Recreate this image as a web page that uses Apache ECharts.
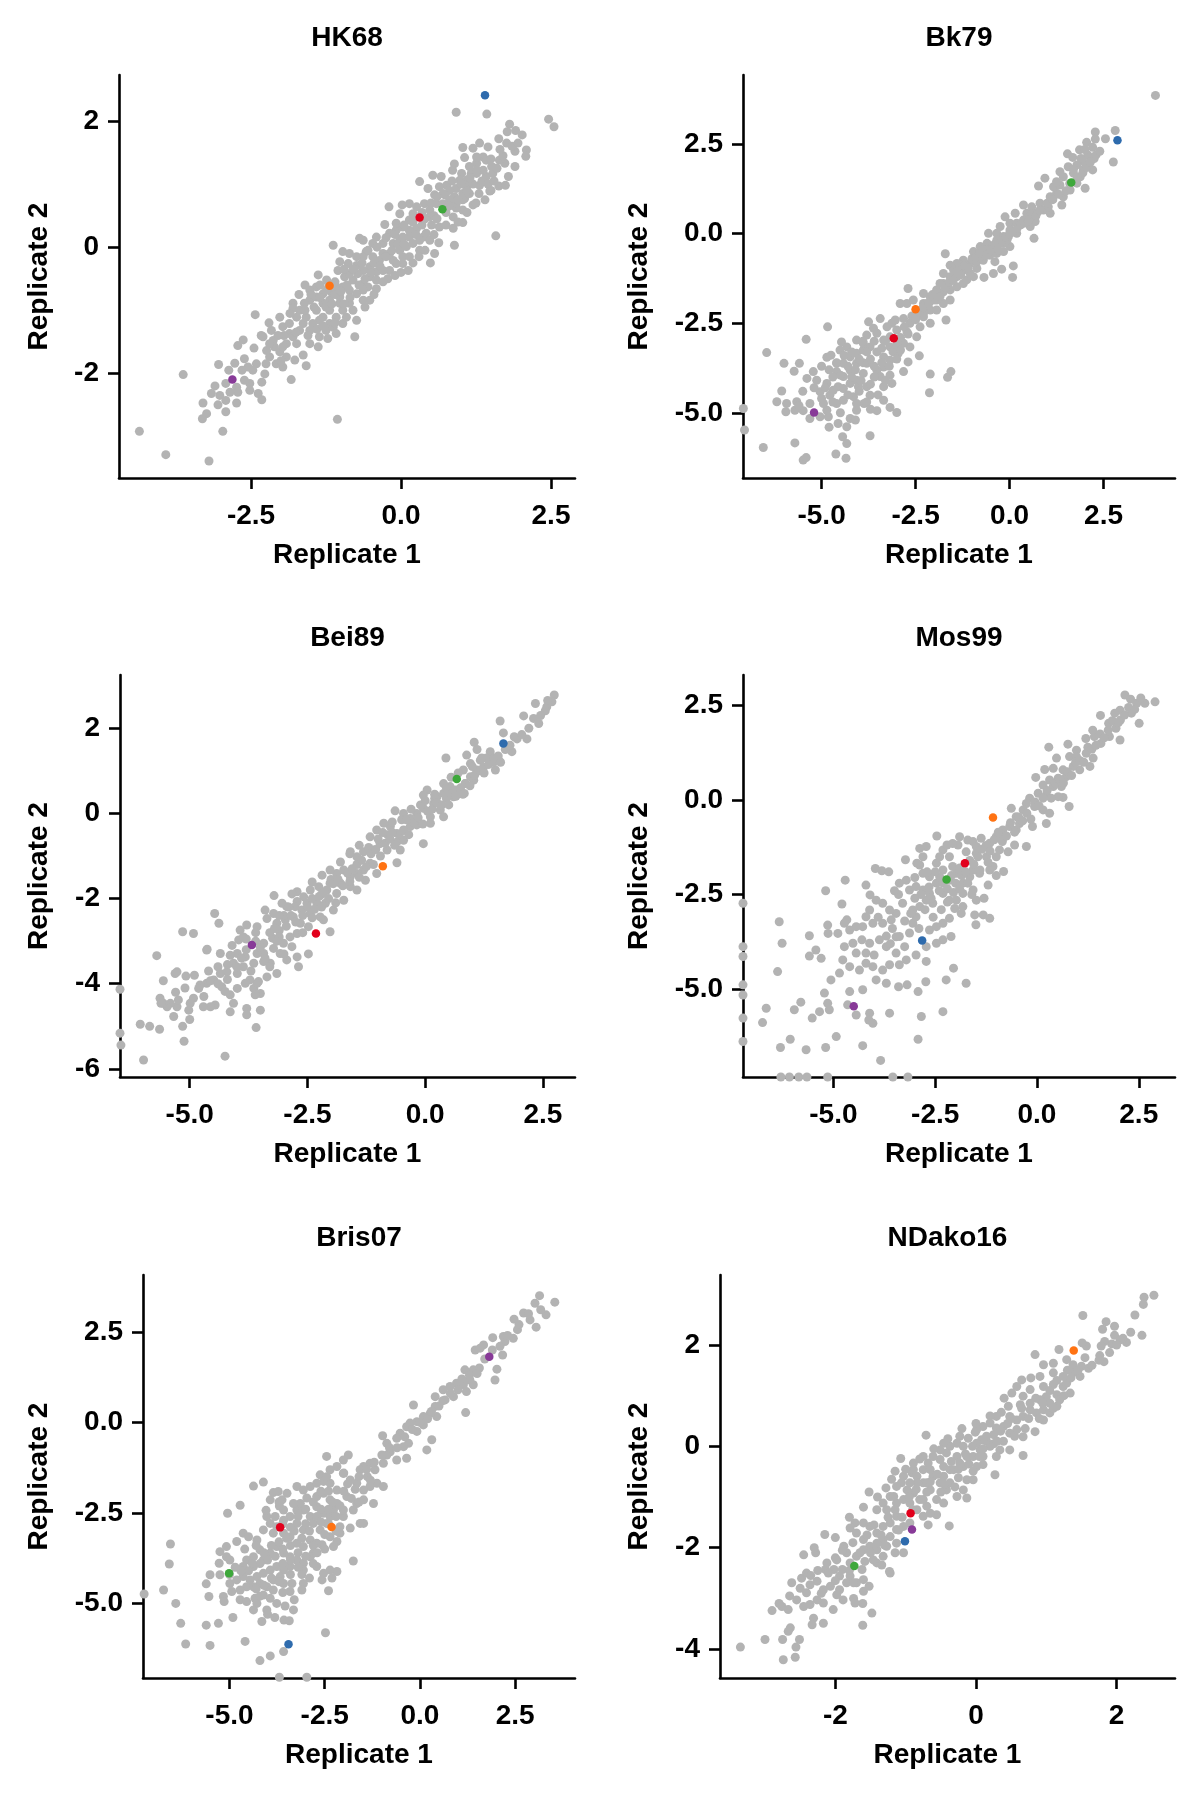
<!DOCTYPE html>
<html><head><meta charset="utf-8">
<script src="https://cdn.jsdelivr.net/npm/echarts@6/dist/echarts.min.js"></script>
<style>html,body{margin:0;padding:0;background:#fff}#c{width:1200px;height:1800px}</style>
</head><body><div id="c"></div>
<script>
// ---------------- DATA ----------------
const PANEL_NAMES = ['HK68','Bk79','Bei89','Mos99','Bris07','NDako16'];
// highlighted points, order: blue, red, green, orange, purple
const HIGHLIGHT_COLORS = ['#2e6bad','#e2001c','#3ea83b','#ff7313','#883a98'];

const HK68_GRAY = [[0.92,2.14],[1.43,2.11],[2.46,2.03],[2.55,1.91],[1.81,1.95],[1.77,1.83],[1.91,1.85],[2.02,1.78],[1.63,1.72],[2.09,1.54],[2.08,1.44],[1.76,1.65],[1.90,1.52],[1.03,1.58],[1.31,1.65],[1.45,1.59],[1.20,1.57],[1.06,1.42],[0.89,1.32],[0.86,1.22],[1.37,1.43],[1.26,1.33],[1.51,1.28],[1.73,1.33],[1.90,1.28],[1.64,1.38],[1.79,1.12],[1.63,0.97],[1.74,0.98],[1.48,0.89],[1.31,0.98],[1.42,1.12],[1.17,1.17],[1.01,1.17],[0.67,1.12],[0.53,1.14],[0.31,1.04],[0.45,0.93],[0.76,0.98],[0.92,0.93],[1.09,0.96],[0.73,0.83],[0.89,0.80],[1.06,0.77],[1.20,0.67],[1.03,0.59],[0.56,0.83],[0.39,0.69],[0.92,0.62],[0.87,0.48],[1.03,0.39],[1.58,0.18],[0.87,0.30],[0.64,0.32],[0.51,0.35],[0.48,0.48],[0.14,0.69],[0.02,0.67],[-0.20,0.64],[-0.02,0.53],[0.14,0.43],[0.26,0.30],[0.14,0.27],[0.37,0.16],[0.63,0.07],[0.89,0.03],[0.56,-0.10],[0.49,-0.25],[0.30,-0.15],[0.12,-0.37],[0.03,-0.15],[-0.08,0.27],[-0.19,0.22],[-0.27,0.36],[-0.02,0.11],[-0.13,0.06],[-0.30,-0.10],[-0.41,0.16],[-0.47,0.06],[-0.63,0.11],[-0.69,0.14],[-0.58,-0.07],[-0.47,-0.15],[-0.36,-0.21],[-0.19,-0.37],[-0.22,-0.50],[-0.41,-0.39],[-0.52,-0.31],[-0.63,-0.37],[-0.74,-0.29],[-0.86,-0.10],[-0.97,-0.07],[-1.13,0.03],[-1.02,-0.23],[-0.88,-0.26],[-1.05,-0.37],[-0.94,-0.47],[-0.80,-0.52],[-0.63,-0.58],[-0.41,-0.66],[-0.52,-0.84],[-0.63,-0.84],[-0.74,-0.74],[-0.86,-0.68],[-0.97,-0.63],[-1.38,-0.44],[-1.08,-0.63],[-1.30,-0.74],[-1.19,-0.84],[-1.02,-0.89],[-0.86,-0.89],[-0.74,-1.16],[-0.77,-1.42],[-0.97,-1.00],[-1.08,-1.11],[-1.19,-1.21],[-1.30,-1.11],[-1.41,-1.00],[-1.52,-0.84],[-1.61,-0.89],[-1.80,-0.89],[-1.80,-0.97],[-1.74,-1.11],[-1.63,-1.21],[-1.52,-1.32],[-1.36,-1.42],[-1.22,-1.45],[-1.38,-1.58],[-1.52,-1.53],[-1.63,-1.71],[-1.77,-1.79],[-1.58,-1.88],[-1.83,-2.10],[-1.97,-1.90],[-2.08,-1.85],[-2.02,-1.66],[-1.91,-1.53],[-1.86,-1.37],[-1.97,-1.26],[-2.02,-1.11],[-2.16,-1.32],[-2.13,-1.48],[-2.11,-1.58],[-2.30,-1.42],[-2.33,-1.40],[-2.43,-1.07],[-2.63,-1.47],[-2.72,-1.56],[-2.61,-1.77],[-2.41,-1.85],[-2.47,-1.95],[-2.27,-2.01],[-2.32,-2.14],[-2.52,-2.16],[-2.61,-2.11],[-2.74,-2.22],[-2.72,-2.30],[-2.52,-2.27],[-2.38,-2.32],[-2.32,-2.42],[-2.77,-1.84],[-2.87,-1.95],[-3.04,-1.86],[-2.92,-2.16],[-3.02,-2.35],[-2.92,-2.43],[-3.16,-2.32],[-2.74,-2.47],[-2.92,-2.61],[-3.30,-2.47],[-3.24,-2.64],[-3.31,-2.72],[-3.63,-2.02],[-2.97,-2.92],[-1.06,-2.73],[-4.36,-2.92],[-3.92,-3.29],[-3.20,-3.39],[-0.63,-0.15],[-0.74,-0.15],[-0.86,-0.42],[-0.72,-0.42],[-0.52,-0.47],[-0.41,-0.52],[-0.55,-0.63],[-0.63,-0.68],[-0.30,-0.37],[-0.13,-0.21],[-0.02,-0.05],[0.09,0.01],[0.20,0.06],[0.31,0.11],[0.03,0.16],[0.14,0.16],[0.42,0.22],[0.48,0.11],[0.31,-0.05],[0.14,-0.15],[0.03,-0.26],[-0.08,-0.26],[-0.19,-0.10],[-0.30,0.06],[-0.08,0.38],[0.03,0.32],[0.20,0.53],[0.26,0.64],[0.48,0.59],[0.59,0.69],[0.70,0.69],[0.81,0.75],[0.92,0.69],[1.03,0.75],[1.14,0.85],[1.03,0.85],[0.81,0.90],[0.64,0.96],[0.98,1.06],[1.09,1.06],[1.26,1.17],[1.37,1.22],[1.53,1.17],[1.26,1.22],[1.14,1.28],[1.26,1.43],[1.42,1.38],[-1.41,-0.63],[-1.52,-0.68],[-1.41,-0.79],[-1.30,-0.89],[-1.19,-1.00],[-1.36,-1.16],[-1.47,-1.21],[-1.58,-1.11],[-1.69,-1.00],[-1.69,-1.32],[-1.80,-1.42],[-1.74,-1.53],[-1.97,-1.58],[-1.91,-1.74],[-2.19,-1.74],[-2.24,-1.64],[-2.19,-1.53],[-1.86,-1.21],[-1.25,-1.32],[-1.13,-1.27],[-1.08,-1.37],[-0.97,-1.21],[-0.91,-1.11],[-1.02,-0.79],[-1.16,-0.71],[-1.24,-0.68],[-1.24,-0.52],
[-1.60,-1.00],[-1.45,-0.95],[-1.35,-0.80],[-1.25,-0.95],[-1.15,-0.90],[-1.10,-0.75],[-1.00,-0.70],[-0.90,-0.60],[-0.85,-0.80],[-0.70,-0.60],[-0.60,-0.50],[-0.50,-0.40],[-0.45,-0.25],[-0.35,-0.30],[-0.25,-0.15],[-0.15,-0.05],[-0.05,0.05],[0.05,0.05],[0.15,0.25],[0.25,0.20],[0.35,0.35],[0.40,0.45],[0.55,0.50],[0.60,0.45],[0.75,0.55],[0.80,0.65],[0.95,0.75],[1.10,0.90],[1.20,1.00],[1.35,1.05],[1.45,1.00],[1.55,1.05],[1.60,1.25],[1.50,1.40],[1.70,1.45],[1.85,1.60],[1.95,1.65],[1.65,1.55],[1.15,1.10],[1.00,1.00],[0.85,1.05],[0.70,0.85],[0.60,0.80],[0.50,0.70],[0.35,0.55],[0.20,0.40],[0.05,0.35],[-0.10,0.20],[-0.25,0.15],[-0.40,0.00],[-0.55,-0.05],[-0.65,-0.25],[-0.80,-0.35],[-0.95,-0.35],[-1.10,-0.55],[-1.20,-0.60],[-1.35,-0.60],[-1.50,-0.75],[-1.60,-0.60],[-1.70,-0.75],[-1.85,-1.05],[-1.95,-1.40],[-2.05,-1.40],[-2.20,-1.20],[-2.25,-1.85],[-2.45,-1.60],[-2.55,-1.90],[-2.65,-1.95],[-2.85,-2.30],[-3.05,-2.50],[-3.10,-2.20],[-2.00,-1.80],[-1.75,-1.35],[-1.55,-1.40],[-1.40,-1.30],[-1.30,-1.25],[-1.10,-1.20],[-0.95,-0.90],[-0.80,-1.00],[-0.60,-0.95],[-0.45,-0.75],[-0.30,-0.55],[-0.10,-0.45],[0.00,-0.40],[0.20,-0.25],[0.40,-0.05],[0.55,0.20],[0.75,0.35],[0.95,0.40],[1.10,0.55],[1.25,0.70],[1.40,0.75],[1.30,0.85],[1.50,0.90]];
const HK68_HIGHLIGHT = [[1.40,2.41],[0.31,0.47],[0.69,0.60],[-1.19,-0.61],[-2.81,-2.10]];

const BK79_GRAY = [[3.88,3.86],[2.28,2.84],[2.81,2.88],[2.55,2.65],[2.28,2.64],[2.05,2.55],[2.76,2.00],[2.21,2.41],[1.86,2.34],[1.54,2.23],[1.68,2.13],[2.08,2.20],[2.25,2.10],[1.96,2.01],[1.79,1.92],[1.56,1.87],[1.34,1.73],[2.21,1.78],[1.96,1.78],[1.43,1.59],[0.94,1.55],[0.77,1.33],[1.17,1.31],[1.34,1.36],[2.01,1.27],[1.25,1.13],[1.08,1.03],[1.39,0.80],[1.08,0.57],[0.81,0.85],[0.59,0.75],[0.37,0.80],[0.46,0.57],[0.68,0.34],[0.55,0.20],[0.65,-0.13],[0.15,0.57],[-0.12,0.47],[0.01,0.29],[-0.25,0.20],[0.19,0.01],[-0.03,-0.08],[-0.34,0.01],[-0.56,0.01],[-0.16,-0.27],[-0.34,-0.36],[-0.60,-0.27],[-0.78,-0.36],[-0.96,-0.50],[-0.70,-0.55],[-0.39,-0.78],[-0.21,-0.99],[0.10,-0.90],[0.08,-1.22],[-0.43,-1.11],[-0.68,-1.22],[-0.87,-0.97],[-1.05,-0.83],[-1.23,-0.74],[-1.40,-0.83],[-1.58,-0.88],[-1.71,-0.56],[-0.96,-1.20],[-1.23,-1.01],[-1.40,-1.20],[-1.58,-1.20],[-1.76,-1.39],[-1.94,-1.57],[-1.76,-1.62],[-1.58,-1.57],[-1.40,-1.48],[-1.23,-1.39],[-1.14,-1.29],[-1.58,-1.85],[-1.76,-1.95],[-1.94,-1.85],[-2.11,-1.76],[-2.29,-1.67],[-2.70,-1.53],[-2.73,-1.95],[-2.29,-1.95],[-2.11,-2.13],[-1.94,-2.13],[-1.69,-2.41],[-2.11,-2.50],[-2.38,-2.60],[-2.65,-2.50],[-2.82,-2.37],[-3.04,-2.41],[-3.44,-2.37],[-3.75,-2.46],[-2.73,-2.74],[-2.47,-2.88],[-2.65,-3.16],[-2.40,-3.41],[-2.70,-3.58],[-2.96,-3.34],[-3.18,-3.16],[-3.35,-2.97],[-3.53,-2.78],[-3.80,-2.83],[-4.07,-2.97],[-4.47,-3.02],[-4.84,-2.60],[-5.41,-2.95],[-6.46,-3.32],[-6.00,-3.62],[-5.59,-3.62],[-5.73,-3.84],[-6.06,-4.39],[-6.19,-4.69],[-5.95,-4.97],[-5.71,-4.93],[-5.49,-4.94],[-5.31,-4.74],[-5.31,-5.16],[-5.22,-3.85],[-5.39,-4.04],[-5.13,-4.09],[-4.86,-4.18],[-5.04,-4.41],[-4.78,-4.51],[-4.56,-4.27],[-4.42,-3.99],[-4.60,-3.85],[-4.24,-3.81],[-4.07,-3.62],[-4.42,-3.62],[-4.24,-3.44],[-4.07,-3.34],[-3.89,-3.25],[-3.71,-3.16],[-3.53,-3.30],[-3.35,-3.44],[-3.18,-3.53],[-3.35,-3.72],[-3.53,-3.81],[-3.80,-3.62],[-3.89,-3.90],[-4.07,-4.09],[-4.24,-4.18],[-4.42,-4.32],[-4.02,-4.27],[-3.80,-4.27],[-3.71,-4.51],[-3.44,-3.99],[-3.18,-3.95],[-2.82,-3.85],[-3.13,-4.18],[-3.35,-4.65],[-3.18,-4.85],[-3.00,-4.99],[-3.53,-4.94],[-3.87,-4.74],[-4.07,-4.93],[-4.24,-5.16],[-4.33,-5.39],[-4.56,-5.30],[-4.82,-5.11],[-5.04,-5.11],[-4.86,-4.93],[-4.60,-4.74],[-4.44,-5.67],[-4.33,-5.86],[-3.71,-5.64],[-5.71,-5.84],[-6.55,-5.97],[-5.49,-6.32],[-5.41,-6.25],[-4.62,-6.15],[-4.35,-6.27],[-7.08,-4.88],[-7.05,-5.48],[-2.11,-3.92],[-2.13,-4.44],[-1.65,-4.01],[-1.56,-3.85],[-4.86,-3.45],[-4.60,-3.62],[-4.75,-3.39],[-3.00,-2.69],[-3.18,-2.88],[-2.82,-3.06],[-2.47,-2.32],[-2.29,-2.23],[-2.29,-2.32],[-2.20,-1.95],[-2.02,-1.85],[-1.85,-1.39],[-1.76,-1.11],[-1.49,-1.01],[-1.32,-0.97],[-1.14,-1.01],[-1.05,-1.11],[-0.87,-0.78],[-0.70,-0.74],[-0.52,-0.60],[-0.47,-0.36],[-0.34,-0.18],[-0.16,-0.08],[0.01,0.10],[0.19,0.29],[0.37,0.38],[0.55,0.47],[0.72,0.57],[0.90,0.66],[1.03,0.75],[1.43,1.03],[1.61,1.22],[1.79,1.41],[1.88,1.59],[1.70,1.69],[1.25,1.45],[-0.60,-0.46],[-0.78,-0.64],[-0.34,-0.55],[-0.16,-0.50],[0.01,-0.36],[-0.07,-0.18],[-2.56,-1.85],[-2.91,-1.95],[-3.13,-2.50],[-3.26,-2.60],[-3.62,-2.64],[-3.89,-3.06],[-4.33,-3.16],[-4.51,-3.25],[-3.35,-4.27],[-4.42,-4.65],[-4.15,-4.55],[-4.07,-4.74],[-4.69,-4.37],[-4.95,-4.74],[-5.66,-4.69],[-5.93,-4.74],
[-4.10,-3.80],[-3.90,-3.60],[-3.70,-3.50],[-3.60,-3.70],[-3.40,-3.20],[-3.30,-3.00],[-3.10,-3.30],[-3.00,-3.10],[-2.90,-2.90],[-2.80,-2.60],[-2.70,-2.80],[-2.60,-2.30],[-2.50,-2.40],[-2.40,-2.20],[-2.30,-2.05],[-2.15,-1.95],[-2.05,-1.70],[-1.95,-1.65],[-1.85,-1.75],[-1.70,-1.50],[-1.60,-1.35],[-1.50,-1.30],[-1.40,-1.05],[-1.30,-1.15],[-1.20,-0.90],[-1.10,-0.95],[-1.00,-0.70],[-0.90,-0.65],[-0.80,-0.55],[-0.70,-0.45],[-0.60,-0.60],[-0.50,-0.45],[-0.40,-0.30],[-0.30,-0.45],[-0.20,-0.20],[-0.10,-0.10],[0.00,0.00],[0.10,0.05],[0.20,0.15],[0.30,0.25],[0.40,0.30],[0.50,0.35],[0.60,0.55],[0.70,0.50],[0.80,0.65],[1.00,0.85],[1.15,0.95],[1.30,1.10],[1.50,1.20],[1.60,1.40],[1.80,1.55],[1.95,1.70],[2.05,1.85],[2.15,2.00],[2.30,2.20],[2.40,2.30],[2.00,2.35],[1.90,2.10],[1.70,1.80],[-3.80,-3.30],[-4.00,-3.50],[-4.30,-3.70],[-4.50,-3.95],[-4.70,-4.00],[-4.90,-4.30],[-4.20,-4.00],[-3.95,-4.10],[-3.60,-4.00],[-3.40,-3.60],[-3.20,-3.70],[-3.00,-3.50],[-2.90,-3.25],[-3.60,-3.00],[-3.90,-3.00],[-4.20,-3.30],[-4.40,-3.40],[-4.60,-3.60],[-4.80,-3.80],[-5.00,-3.70],[-5.20,-4.30],[-4.70,-4.70],[-4.30,-4.50],[-4.00,-4.40],[-3.70,-4.20],[-3.30,-4.10],[-3.50,-4.50],[-3.80,-4.70],[-4.50,-5.00],[-4.80,-5.40],[-5.00,-4.60],[-5.50,-4.40],[-5.60,-4.80],[-4.10,-5.20],[-3.70,-4.90]];
const BK79_HIGHLIGHT = [[2.87,2.61],[-3.08,-2.92],[1.64,1.43],[-2.50,-2.11],[-5.20,-4.99]];

const BEI89_GRAY = [[2.74,2.78],[2.69,2.62],[2.58,2.50],[2.55,2.41],[2.34,2.58],[2.09,2.29],[2.30,2.23],[2.41,2.11],[1.59,2.17],[1.66,1.89],[1.89,1.80],[2.16,1.75],[1.84,1.45],[1.56,1.25],[1.49,1.02],[1.38,1.45],[1.10,1.50],[1.04,1.67],[0.88,1.37],[0.44,1.30],[0.96,1.17],[1.17,1.25],[1.24,1.09],[1.10,1.02],[0.96,0.86],[0.81,1.02],[1.03,0.78],[0.39,0.70],[0.53,0.63],[0.83,0.47],[0.60,0.39],[0.39,0.47],[0.25,0.39],[0.04,0.55],[-0.04,0.43],[0.18,0.23],[0.32,0.08],[0.39,-0.08],[0.11,-0.08],[-0.04,0.12],[-0.18,0.00],[-0.32,-0.12],[-0.46,0.00],[-0.64,0.06],[-0.04,-0.71],[0.11,-0.23],[-0.18,-0.27],[-0.32,-0.31],[-0.46,-0.39],[-0.60,-0.47],[-0.74,-0.31],[-0.88,-0.23],[-1.03,-0.39],[-1.17,-0.55],[-0.60,-0.67],[-0.46,-0.63],[-0.53,-0.86],[-0.60,-1.16],[-0.81,-0.86],[-0.96,-0.71],[-1.10,-0.86],[-1.31,-0.90],[-1.45,-1.02],[-1.59,-0.90],[-1.80,-1.14],[-1.17,-1.17],[-1.31,-1.33],[-1.03,-1.41],[-1.27,-1.57],[-1.45,-1.41],[-1.59,-1.49],[-1.73,-1.33],[-1.88,-1.41],[-2.02,-1.33],[-2.19,-1.45],[-2.40,-1.61],[-2.02,-1.64],[-1.80,-1.64],[-1.59,-1.72],[-1.45,-1.80],[-1.73,-2.04],[-1.88,-1.88],[-2.09,-1.80],[-2.26,-1.72],[-2.44,-1.80],[-2.58,-1.96],[-2.72,-1.84],[-2.83,-1.89],[-2.72,-2.07],[-2.51,-2.11],[-2.30,-2.11],[-2.12,-2.11],[-1.95,-2.27],[-2.16,-2.50],[-2.02,-2.78],[-2.23,-2.43],[-2.44,-2.35],[-2.62,-2.27],[-2.76,-2.19],[-2.94,-2.19],[-3.04,-2.11],[-3.22,-2.35],[-3.21,-1.93],[-3.40,-2.27],[-3.36,-2.47],[-3.15,-2.58],[-2.97,-2.50],[-2.80,-2.43],[-2.65,-2.58],[-2.48,-2.66],[-2.72,-2.82],[-2.87,-2.90],[-3.01,-3.05],[-2.83,-3.13],[-2.72,-3.37],[-2.48,-3.30],[-2.69,-3.60],[-2.94,-3.44],[-3.08,-3.29],[-3.22,-3.17],[-3.24,-2.93],[-3.57,-2.66],[-3.79,-2.62],[-3.93,-2.74],[-3.96,-2.97],[-3.86,-2.90],[-3.43,-3.05],[-3.43,-3.29],[-3.57,-3.29],[-3.82,-3.37],[-3.99,-3.29],[-4.14,-3.33],[-4.35,-3.29],[-4.07,-3.52],[-3.86,-3.60],[-3.64,-3.52],[-3.43,-3.48],[-3.29,-3.52],[-3.15,-3.76],[-3.36,-3.84],[-3.54,-3.95],[-3.72,-3.91],[-3.82,-3.99],[-3.64,-4.11],[-3.50,-4.23],[-3.61,-4.26],[-3.57,-3.99],[-3.99,-3.76],[-4.21,-3.72],[-4.35,-3.76],[-4.49,-3.91],[-4.64,-3.99],[-4.78,-4.03],[-4.64,-3.21],[-4.32,-4.07],[-3.99,-4.11],[-4.14,-4.26],[-4.25,-4.18],[-4.07,-4.46],[-4.14,-4.66],[-3.79,-4.58],[-3.50,-4.62],[-3.79,-4.73],[-3.59,-5.03],[-4.25,-5.70],[-4.46,-4.50],[-4.56,-4.54],[-4.71,-4.54],[-4.92,-4.34],[-4.99,-4.46],[-5.02,-4.62],[-5.00,-4.84],[-5.15,-5.00],[-5.12,-5.35],[-5.27,-4.54],[-5.24,-4.38],[-5.34,-4.77],[-5.41,-4.46],[-5.48,-4.54],[-5.56,-4.46],[-5.63,-4.34],[-5.61,-4.46],[-5.31,-3.76],[-5.27,-3.72],[-5.08,-3.82],[-5.56,-3.93],[-5.70,-3.34],[-5.15,-2.78],[-4.92,-2.82],[-4.63,-3.19],[-4.47,-2.35],[-4.38,-2.58],[-4.81,-4.11],[-4.56,-3.93],[-6.05,-4.95],[-5.85,-5.00],[-5.64,-5.07],[-5.98,-5.79],[-6.48,-5.16],[-6.46,-5.44],[-6.48,-4.13],[-5.66,-6.23],[-4.88,-6.23],[-1.60,-0.95],[-1.40,-0.75],[-1.20,-0.80],[-1.00,-0.60],[-0.80,-0.50],[-0.70,-0.20],[-0.50,-0.15],[-0.30,0.10],[-0.10,0.20],[0.20,0.35],[0.45,0.60],[0.65,0.55],[0.70,0.95],[0.55,0.85],[0.85,0.70],[1.30,1.30],[1.45,1.20],[-2.00,-1.55],[-2.20,-1.90],[-2.40,-2.00],[-1.90,-2.10],[-3.00,-2.40],[-3.10,-2.75],
[-3.80,-3.20],[-3.60,-3.00],[-3.50,-3.15],[-3.30,-2.80],[-3.20,-2.70],[-3.10,-2.90],[-2.95,-2.65],[-2.85,-2.40],[-2.75,-2.55],[-2.60,-2.40],[-2.50,-2.20],[-2.35,-2.25],[-2.25,-1.95],[-2.15,-1.85],[-2.05,-2.00],[-1.95,-1.65],[-1.85,-1.55],[-1.75,-1.70],[-1.65,-1.40],[-1.55,-1.30],[-1.45,-1.20],[-1.35,-1.10],[-1.25,-1.25],[-1.15,-0.95],[-1.05,-0.85],[-0.95,-1.00],[-0.85,-0.70],[-0.75,-0.60],[-0.65,-0.75],[-0.55,-0.50],[-0.45,-0.40],[-0.35,-0.50],[-0.25,-0.20],[-0.15,-0.10],[-0.05,-0.25],[0.05,0.05],[0.15,0.10],[0.25,0.25],[0.35,0.20],[0.45,0.35],[0.55,0.45],[0.65,0.40],[0.75,0.60],[0.85,0.70],[0.95,0.65],[1.05,0.90],[1.15,1.00],[1.25,0.95],[1.35,1.15],[1.45,1.30],[1.55,1.35],[1.70,1.50],[1.80,1.60],[1.95,1.75],[2.05,1.85],[2.20,2.00],[2.45,2.30],[2.60,2.65],[-4.00,-3.60],[-3.90,-3.40],[-4.20,-3.55],[-4.40,-3.60],[-4.60,-3.70],[-3.70,-3.70],[-3.40,-3.40],[-3.00,-3.30],[-3.15,-3.00],[-2.60,-2.80],[-2.90,-2.20],[-3.10,-2.40],[-3.60,-2.80],[-3.80,-2.95],[-4.10,-3.10],[-4.90,-3.80],[-5.10,-4.10],[-5.30,-4.20],[-4.70,-4.30],[-4.40,-4.00],[-4.20,-3.90],[-3.30,-3.60],[-2.40,-2.45],[-2.20,-2.20],[-1.60,-1.60],[-1.40,-1.50],[-1.10,-1.20],[-0.90,-0.45],[-0.70,-0.45],[-0.40,-0.15],[0.00,0.30],[0.20,0.45],[0.50,0.20],[0.80,0.45],[1.00,1.10],[1.20,1.30],[1.60,1.20]];
const BEI89_HIGHLIGHT = [[1.66,1.64],[-2.32,-2.82],[0.67,0.81],[-0.90,-1.24],[-3.68,-3.09]];

const MOS99_GRAY = [[2.16,2.78],[2.30,2.67],[2.45,2.56],[2.65,2.56],[2.90,2.60],[2.51,2.03],[2.32,2.30],[2.04,2.38],[1.91,2.30],[2.05,2.12],[1.56,2.24],[1.76,2.03],[1.94,1.90],[2.04,1.59],[1.78,1.68],[1.57,1.50],[1.41,1.68],[1.20,1.63],[1.37,1.85],[0.97,1.32],[0.76,1.48],[0.80,1.15],[0.97,1.15],[1.21,1.24],[1.38,1.11],[1.30,0.89],[1.05,0.80],[0.89,0.89],[0.48,1.11],[0.29,1.40],[0.19,0.81],[0.40,0.84],[0.64,0.80],[0.72,0.62],[0.52,0.58],[0.31,0.53],[-0.03,0.60],[0.15,0.40],[0.40,0.36],[0.60,0.36],[0.64,0.07],[0.79,-0.17],[0.52,0.09],[0.23,0.13],[0.03,0.18],[-0.18,0.05],[-0.26,-0.09],[-0.06,-0.17],[0.15,-0.26],[0.31,-0.35],[0.23,-0.62],[-0.11,-0.70],[-0.34,-0.26],[-0.51,-0.44],[-0.63,-0.22],[-0.43,-0.62],[-0.67,-0.70],[-0.84,-0.79],[-0.51,-0.79],[-0.26,-1.23],[-0.55,-1.19],[-0.71,-1.37],[-0.84,-1.01],[-1.00,-0.97],[-1.16,-1.14],[-1.37,-1.01],[-1.57,-1.10],[-1.70,-1.06],[-1.90,-0.97],[-1.94,-1.19],[-1.74,-1.37],[-1.49,-1.41],[-1.24,-1.50],[-1.00,-1.50],[-0.82,-1.89],[-1.20,-2.25],[-1.41,-1.94],[-1.57,-1.85],[-1.65,-2.03],[-1.82,-2.20],[-1.57,-2.38],[-1.82,-2.47],[-1.98,-2.65],[-1.82,-2.82],[-1.49,-2.65],[-1.16,-3.13],[-1.32,-3.04],[-1.53,-3.04],[-1.86,-3.00],[-2.02,-2.87],[-2.15,-2.65],[-2.31,-2.47],[-2.47,-2.20],[-2.64,-2.03],[-2.80,-1.94],[-2.88,-1.72],[-2.80,-1.50],[-2.47,-1.67],[-2.31,-1.85],[-2.15,-1.50],[-2.31,-1.32],[-2.07,-1.15],[-2.21,-1.19],[-2.46,-0.95],[-2.72,-1.23],[-2.88,-1.28],[-2.95,-1.67],[-3.23,-1.58],[-3.38,-2.20],[-3.21,-2.12],[-3.13,-2.38],[-3.30,-2.73],[-3.46,-3.00],[-3.62,-2.91],[-3.79,-2.73],[-3.95,-2.65],[-4.11,-2.91],[-4.20,-3.09],[-4.28,-3.35],[-4.03,-3.26],[-3.79,-3.26],[-3.58,-3.17],[-3.46,-3.62],[-3.25,-3.88],[-3.46,-4.05],[-3.70,-3.88],[-3.87,-3.70],[-4.11,-3.79],[-4.20,-4.05],[-4.44,-4.05],[-4.52,-3.79],[-4.73,-3.88],[-4.77,-4.23],[-4.60,-4.41],[-4.36,-4.50],[-4.20,-4.32],[-4.03,-4.41],[-3.95,-4.76],[-3.70,-4.85],[-3.40,-4.94],[-3.19,-4.89],[-2.92,-5.07],[-2.73,-4.81],[-2.84,-5.73],[-2.92,-6.33],[-2.31,-5.60],[-2.23,-4.76],[-2.05,-4.45],[-1.74,-4.85],[-2.11,-3.61],[-2.31,-3.70],[-2.47,-3.79],[-2.72,-3.88],[-2.72,-4.27],[-2.97,-4.10],[-3.21,-4.23],[-3.38,-4.36],[-3.62,-4.36],[-3.79,-4.50],[-4.28,-5.02],[-4.60,-5.07],[-4.65,-5.42],[-4.44,-5.69],[-4.11,-5.64],[-4.13,-5.82],[-4.03,-5.91],[-4.28,-6.50],[-3.84,-6.89],[-3.62,-5.64],[-5.22,-5.11],[-5.14,-5.38],[-5.10,-5.55],[-4.93,-6.26],[-5.19,-6.55],[-5.34,-5.60],[-5.52,-5.77],[-5.96,-5.55],[-5.80,-5.35],[-6.06,-6.33],[-5.67,-6.61],[-6.30,-6.55],[-6.65,-5.51],[-6.74,-5.89],[-6.37,-4.54],[-6.26,-3.79],[-6.33,-3.22],[-5.59,-3.59],[-5.59,-4.13],[-5.43,-3.97],[-5.30,-4.19],[-5.14,-3.31],[-5.13,-3.53],[-4.89,-3.53],[-4.79,-2.75],[-4.71,-2.12],[-5.19,-2.40],[-4.67,-3.17],[-4.73,-3.26],[-5.06,-4.76],[-4.85,-4.58],[-7.22,-2.73],[-7.22,-3.88],[-7.22,-4.14],[-7.22,-4.89],[-7.22,-5.16],[-7.22,-5.77],[-7.22,-6.39],[-6.29,-7.33],[-6.08,-7.33],[-5.85,-7.33],[-5.65,-7.33],[-5.14,-7.33],[-3.54,-7.33],[-3.17,-7.33],[-3.97,-1.81],[-3.81,-1.87],[-3.64,-1.90],[-4.20,-2.25],[-4.10,-2.51],[-4.44,-3.35],[-4.60,-3.44],[-3.38,-3.61],[-3.13,-3.52],[-3.05,-3.26],[-2.97,-3.09],[-2.64,-3.44],[-2.47,-3.35],[-2.31,-3.26],[-2.15,-3.13],[-2.56,-2.73],[-2.72,-2.65],[-2.88,-2.82],[-3.05,-2.91],[-2.64,-2.47],[-2.80,-2.38],[-2.97,-2.29],[-2.39,-2.03],[-2.15,-2.12],[-1.98,-1.94],[-2.07,-1.76],[-2.39,-1.50],[-1.08,-1.76],[-1.16,-1.85],[-0.92,-1.32],[-1.49,-1.23],
[-2.40,-2.40],[-2.30,-2.20],[-2.20,-2.35],[-2.10,-2.00],[-2.00,-2.20],[-1.90,-1.80],[-1.85,-2.00],[-1.75,-1.90],[-1.65,-1.60],[-1.55,-1.70],[-1.45,-1.50],[-1.35,-1.30],[-1.25,-1.20],[-1.15,-1.35],[-1.05,-1.05],[-0.95,-0.85],[-0.85,-1.10],[-0.75,-0.95],[-0.65,-0.60],[-0.55,-0.85],[-0.45,-0.45],[-0.35,-0.55],[-0.25,-0.35],[-0.15,-0.50],[-0.05,-0.05],[0.05,-0.15],[0.15,0.05],[0.25,0.25],[0.35,0.05],[0.45,0.45],[0.55,0.55],[0.65,0.45],[0.75,0.75],[0.85,0.65],[0.95,1.00],[1.05,1.05],[1.15,1.00],[1.25,1.40],[1.35,1.35],[1.45,1.45],[1.55,1.75],[1.65,1.65],[1.75,1.85],[1.85,2.10],[2.00,2.05],[2.15,2.25],[2.25,2.45],[2.40,2.40],[2.55,2.70],[-2.60,-2.60],[-2.75,-2.90],[-2.85,-2.50],[-3.00,-2.60],[-3.10,-3.00],[-3.25,-3.20],[-3.40,-2.50],[-3.55,-3.40],[-3.70,-3.60],[-2.55,-3.10],[-2.35,-2.90],[-2.20,-2.70],[-2.05,-2.45],[-1.90,-2.35],[-2.50,-1.90],[-2.65,-2.30],[-1.70,-2.20],[-1.60,-2.50],[-1.40,-1.85],[-1.20,-1.65],[-2.70,-1.90],[-3.00,-2.05],[-3.50,-2.40],[-3.90,-3.10],[-4.30,-3.70],[-4.00,-4.10],[-3.60,-3.80],[-2.90,-3.40],[-1.30,-2.60],[-1.00,-2.00],[-1.50,-3.30]];
const MOS99_HIGHLIGHT = [[-2.82,-3.72],[-1.77,-1.67],[-2.22,-2.10],[-1.08,-0.46],[-4.50,-5.46]];

const BRIS07_GRAY = [[3.14,3.50],[3.02,3.29],[3.54,3.32],[3.31,2.97],[3.17,3.11],[2.72,3.02],[2.89,2.83],[2.47,2.85],[3.05,2.63],[2.56,2.56],[2.45,2.32],[2.23,2.23],[2.19,2.37],[1.91,2.34],[1.67,2.14],[1.45,2.00],[1.58,2.05],[2.17,1.86],[2.02,1.47],[1.97,1.17],[1.56,1.50],[1.40,1.45],[1.18,1.45],[1.31,1.17],[1.14,1.04],[1.40,1.04],[1.22,0.85],[0.96,1.08],[0.79,0.99],[0.61,0.90],[0.88,0.71],[0.66,0.62],[0.40,0.71],[1.20,0.27],[0.40,0.44],[0.44,0.16],[0.27,0.25],[0.09,0.16],[-0.17,0.48],[-0.08,0.02],[-0.26,-0.02],[-0.35,-0.12],[0.09,-0.07],[-0.08,-0.25],[0.18,-0.76],[0.31,-0.48],[-0.30,-0.58],[-0.52,-0.30],[-0.61,-0.44],[-0.43,-0.67],[-0.87,-0.58],[-0.98,-0.37],[-0.78,-0.81],[-0.87,-0.90],[-0.61,-1.04],[-0.35,-0.99],[-0.96,-1.13],[-1.18,-1.31],[-1.31,-1.13],[-1.48,-1.22],[-1.57,-1.31],[-1.38,-1.50],[-1.13,-1.68],[-0.96,-1.77],[-1.31,-1.77],[-1.48,-1.87],[-1.66,-1.68],[-1.83,-1.59],[-2.01,-1.41],[-1.88,-0.90],[-2.01,-1.04],[-2.45,-0.94],[-2.62,-1.45],[-2.36,-1.68],[-2.18,-1.87],[-1.92,-2.05],[-1.48,-2.14],[-1.66,-2.24],[-1.22,-2.24],[-1.75,-2.42],[-2.01,-2.60],[-2.18,-2.24],[-2.36,-2.14],[-2.53,-1.96],[-2.71,-2.05],[-2.97,-2.09],[-2.71,-2.33],[-2.53,-2.51],[-2.36,-2.60],[-2.10,-2.88],[-2.36,-3.16],[-2.10,-3.06],[-1.83,-2.92],[-1.57,-2.79],[-1.48,-2.79],[-1.75,-3.83],[-2.18,-3.29],[-2.27,-3.43],[-2.18,-4.12],[-2.36,-4.08],[-2.53,-4.17],[-2.57,-4.35],[-2.31,-4.30],[-2.40,-4.65],[-2.71,-3.98],[-2.80,-3.61],[-2.88,-3.25],[-3.06,-2.97],[-3.23,-2.79],[-3.41,-2.60],[-3.23,-2.42],[-3.06,-2.42],[-2.88,-2.60],[-2.80,-2.79],[-2.62,-2.97],[-2.57,-3.38],[-2.71,-3.34],[-3.06,-3.43],[-3.23,-3.34],[-3.41,-3.16],[-3.58,-3.06],[-3.85,-3.06],[-3.93,-2.79],[-4.02,-2.60],[-4.04,-2.43],[-3.93,-2.14],[-3.69,-2.31],[-3.58,-2.42],[-3.49,-1.96],[-3.62,-2.14],[-3.85,-1.94],[-3.72,-1.91],[-4.11,-1.65],[-4.37,-1.76],[-4.72,-2.29],[-5.05,-2.51],[-4.64,-3.06],[-4.50,-3.16],[-4.81,-3.29],[-4.28,-3.25],[-4.11,-2.97],[-4.20,-3.52],[-4.37,-3.71],[-4.55,-3.80],[-4.64,-3.98],[-4.37,-3.98],[-4.11,-3.80],[-3.93,-3.61],[-3.76,-3.43],[-3.58,-3.61],[-3.41,-3.71],[-3.23,-3.80],[-3.41,-3.98],[-3.58,-4.08],[-3.76,-3.98],[-3.93,-4.08],[-4.11,-4.17],[-4.28,-4.26],[-4.46,-4.35],[-4.64,-4.26],[-4.55,-4.54],[-4.72,-4.63],[-4.72,-4.90],[-4.55,-4.95],[-4.33,-4.86],[-4.11,-4.77],[-3.85,-4.63],[-3.58,-4.45],[-3.36,-4.45],[-3.41,-4.67],[-3.06,-4.45],[-3.10,-4.63],[-3.32,-5.18],[-3.54,-5.07],[-3.76,-5.00],[-4.02,-5.18],[-4.15,-5.50],[-3.81,-5.39],[-3.57,-5.46],[-3.43,-5.48],[-3.93,-4.86],[-4.28,-5.00],[-4.94,-4.67],[-4.99,-4.45],[-5.16,-4.81],[-5.14,-4.95],[-5.25,-4.21],[-5.51,-4.21],[-5.61,-4.46],[-5.54,-4.81],[-5.27,-3.89],[-5.08,-3.71],[-5.25,-3.57],[-5.08,-3.43],[-4.99,-3.80],[-4.91,-5.39],[-5.29,-5.55],[-5.61,-5.60],[-6.28,-5.55],[-6.41,-5.00],[-6.73,-4.63],[-7.24,-4.74],[-6.58,-3.91],[-6.55,-3.36],[-6.15,-6.12],[-5.51,-6.16],[-4.59,-6.05],[-3.93,-6.45],[-4.20,-6.58],[-3.58,-6.33],[-2.48,-5.81],[-3.69,-7.04],[-2.97,-7.04],[-4.37,-5.18],[-2.53,-1.63],[-2.88,-1.77],[-2.71,-1.68],[-3.23,-1.77],[-3.06,-1.87],[-3.14,-2.24],[-3.32,-2.24],[-3.58,-2.70],[-3.76,-2.88],[-2.45,-1.50],[-2.18,-1.22],[-2.36,-1.31],[-2.01,-2.42],[-2.27,-2.42],[-2.45,-2.79],[-2.88,-3.71],[-3.06,-3.89],[-3.06,-4.08],[-3.67,-4.26],[-3.85,-4.35],[-4.02,-4.54],[-4.20,-4.45],[-4.37,-4.54],[-4.81,-4.35],
[-3.50,-3.20],[-3.40,-3.40],[-3.30,-3.00],[-3.20,-3.60],[-3.10,-3.20],[-3.00,-2.80],[-2.90,-3.00],[-2.80,-3.40],[-2.70,-2.60],[-2.60,-2.75],[-2.50,-3.10],[-2.40,-2.40],[-2.30,-2.20],[-2.20,-2.60],[-2.10,-2.30],[-2.00,-1.90],[-1.90,-1.70],[-1.80,-2.10],[-1.70,-1.85],[-1.60,-1.50],[-1.40,-1.30],[-1.20,-1.10],[-1.00,-0.90],[-0.80,-0.70],[-0.60,-0.70],[-0.40,-0.40],[-0.20,-0.20],[0.00,0.00],[0.20,0.10],[0.30,0.30],[0.50,0.45],[0.60,0.60],[0.80,0.80],[1.00,0.90],[1.10,1.20],[1.30,1.30],[1.50,1.35],[1.70,1.75],[1.90,2.00],[2.10,2.10],[2.30,2.40],[2.60,2.70],[2.85,3.00],[-3.60,-3.50],[-3.70,-3.30],[-3.80,-3.70],[-3.90,-3.40],[-4.00,-3.80],[-4.10,-3.60],[-4.20,-3.90],[-4.40,-3.90],[-4.50,-4.10],[-4.70,-4.10],[-4.85,-4.00],[-3.60,-3.90],[-3.40,-3.80],[-3.20,-4.00],[-3.00,-3.70],[-2.80,-3.90],[-2.70,-3.60],[-3.10,-4.20],[-3.40,-4.20],[-3.70,-4.40],[-3.90,-4.30],[-4.10,-4.50],[-4.30,-4.60],[-3.80,-2.60],[-3.60,-2.80],[-3.40,-2.90],[-3.20,-2.60],[-3.00,-2.40],[-2.80,-2.20],[-2.60,-2.40],[-2.40,-2.80],[-2.20,-3.00],[-2.50,-3.50],[-3.70,-2.20],[-4.30,-3.40],[-4.60,-3.50],[-5.00,-4.20],[-4.20,-4.80],[-3.60,-4.70],[-2.90,-4.30],[-3.30,-4.90],[-4.00,-5.30],[-2.00,-1.40],[-1.30,-1.60],[-1.60,-2.20],[-2.60,-1.90],[-2.40,-1.90]];
const BRIS07_HIGHLIGHT = [[-3.45,-6.13],[-3.67,-2.90],[-5.01,-4.17],[-2.32,-2.89],[1.82,1.81]];

const NDAKO16_GRAY = [[2.53,2.98],[2.39,2.94],[2.38,2.80],[2.26,2.59],[2.36,2.19],[2.14,2.05],[2.09,2.13],[1.97,2.19],[2.05,2.10],[1.93,2.02],[1.83,2.07],[1.78,1.98],[1.82,1.67],[1.76,1.79],[1.97,2.37],[1.85,2.46],[1.80,2.31],[1.52,2.58],[1.57,1.98],[1.51,2.04],[1.18,1.91],[0.84,1.81],[0.96,1.61],[1.10,1.64],[1.29,1.71],[1.38,1.61],[1.50,1.58],[1.60,1.54],[1.48,1.38],[1.38,1.45],[1.24,1.38],[1.10,1.45],[0.91,1.38],[0.78,1.35],[0.65,1.31],[0.58,1.18],[0.51,1.05],[0.96,1.18],[1.10,1.22],[1.24,1.18],[1.34,1.05],[1.15,1.02],[1.00,0.98],[0.91,0.92],[1.05,0.85],[0.96,0.72],[0.86,0.66],[0.77,0.72],[0.67,0.59],[0.58,0.52],[0.46,0.79],[0.63,0.82],[0.36,0.67],[0.84,0.29],[0.67,0.19],[0.58,0.33],[0.48,0.26],[0.39,0.39],[0.29,0.36],[0.25,0.23],[0.15,0.10],[0.08,0.13],[-0.01,0.28],[-0.11,0.16],[-0.23,0.20],[-0.27,0.06],[-0.37,0.00],[0.39,0.10],[0.48,-0.07],[0.34,-0.07],[0.29,-0.20],[0.67,-0.18],[0.27,-0.56],[0.10,-0.20],[0.10,-0.36],[0.01,-0.40],[-0.04,-0.49],[-0.13,-0.20],[-0.18,-0.40],[-0.27,-0.20],[-0.42,-0.13],[-0.51,-0.26],[-0.46,-0.40],[-0.37,-0.46],[-0.25,-0.62],[-0.13,-0.66],[-0.04,-0.66],[-0.18,-0.86],[-0.13,-1.02],[-0.27,-0.99],[-0.42,-0.86],[-0.51,-0.72],[-0.61,-0.59],[-0.71,0.22],[-0.68,-0.33],[-0.75,-0.46],[-0.89,-0.33],[-0.91,-0.52],[-0.84,-0.59],[-0.75,-0.72],[-0.65,-0.86],[-0.56,-1.05],[-0.46,-1.12],[-0.38,-1.57],[-0.56,-1.35],[-0.68,-1.55],[-0.70,-1.18],[-0.80,-1.05],[-0.89,-0.92],[-0.98,-0.86],[-1.06,-0.72],[-1.15,-0.49],[-1.07,-0.24],[-1.03,-1.05],[-1.13,-1.12],[-1.22,-0.99],[-1.28,-0.82],[-1.52,-0.90],[-1.32,-1.12],[-1.41,-1.25],[-1.27,-1.25],[-1.13,-1.38],[-1.22,-1.51],[-1.32,-1.58],[-1.41,-1.71],[-1.51,-1.58],[-1.60,-1.51],[-1.72,-1.51],[-1.79,-1.61],[-1.70,-1.71],[-1.60,-1.84],[-1.51,-1.97],[-1.41,-2.04],[-1.27,-1.97],[-1.15,-2.10],[-1.03,-2.10],[-1.13,-1.91],[-1.32,-2.17],[-1.41,-2.30],[-1.46,-2.24],[-1.58,-2.27],[-1.22,-2.50],[-1.23,-2.47],[-1.34,-2.34],[-1.62,-2.43],[-1.88,-1.97],[-1.84,-2.10],[-1.98,-2.24],[-2.12,-2.30],[-2.15,-1.74],[-2.28,-2.10],[-2.45,-2.14],[-2.14,-2.43],[-2.02,-2.43],[-1.90,-2.43],[-1.79,-2.56],[-1.70,-2.69],[-1.84,-2.69],[-1.94,-2.83],[-1.98,-2.93],[-1.89,-3.03],[-1.74,-3.00],[-1.60,-2.86],[-1.52,-2.76],[-1.61,-3.10],[-1.48,-3.29],[-1.61,-3.53],[-1.72,-3.09],[-2.03,-3.22],[-2.17,-3.09],[-2.17,-3.49],[-2.26,-3.03],[-2.36,-3.12],[-2.31,-3.39],[-2.33,-3.52],[-2.41,-2.89],[-2.55,-3.03],[-2.45,-3.16],[-2.26,-2.66],[-2.36,-2.73],[-2.48,-2.60],[-2.41,-2.50],[-2.62,-2.69],[-2.76,-3.16],[-2.67,-3.22],[-2.90,-3.24],[-2.64,-3.58],[-2.67,-3.65],[-2.51,-3.81],[-2.56,-3.96],[-2.57,-4.16],[-2.74,-4.21],[-2.75,-3.81],[-3.00,-3.81],[-3.35,-3.96],[-0.84,-0.72],[-0.94,-0.72],[-0.70,-0.72],[-0.65,-0.46],[-0.46,-0.59],[-0.37,-0.72],[-0.32,-0.46],[-0.23,-0.33],[-0.04,-0.20],[0.06,-0.07],[0.20,0.00],[0.01,0.06],[-0.18,0.00],[-0.46,0.06],[-0.51,-0.07],[-0.61,-0.20],[-0.75,-0.20],[-0.89,-0.46],[-1.03,-0.59],[-1.13,-0.79],[-1.17,-0.99],[-0.94,-1.12],[-0.84,-1.25],[-0.75,-1.38],[-0.65,-1.32],[-0.94,-1.51],[-1.13,-1.64],[-1.03,-1.58],[-1.22,-1.78],[-1.32,-1.84],[-1.41,-1.91],[-1.60,-2.04],[-1.70,-2.17],[-1.79,-2.30],[-1.74,-2.69],[-1.60,-2.63],[-1.94,-2.56],[-2.07,-2.76],[-2.17,-2.83],[0.29,0.59],[0.20,0.46],[0.10,0.39],[0.01,0.33],[0.96,0.52],[1.05,0.66],[1.15,0.79],[1.19,0.92],[1.29,1.25],[0.77,1.12],[0.67,0.99],[0.77,0.85],[0.48,0.59],
[-1.90,-2.05],[-1.75,-1.90],[-1.65,-2.10],[-1.55,-1.75],[-1.45,-1.55],[-1.35,-1.75],[-1.25,-1.40],[-1.15,-1.25],[-1.05,-1.40],[-0.95,-1.00],[-0.85,-0.85],[-0.75,-1.05],[-0.65,-0.70],[-0.55,-0.55],[-0.45,-0.75],[-0.35,-0.30],[-0.25,-0.45],[-0.15,-0.15],[-0.05,0.00],[0.05,-0.20],[0.15,0.20],[0.25,0.05],[0.35,0.30],[0.45,0.45],[0.55,0.20],[0.65,0.75],[0.75,0.55],[0.85,0.95],[0.95,0.85],[1.05,1.10],[1.15,1.30],[1.25,1.00],[1.35,1.35],[1.45,1.50],[1.55,1.75],[1.65,1.60],[1.75,1.70],[1.90,1.85],[2.00,2.00],[2.20,2.25],[-2.10,-2.50],[-2.00,-2.20],[-2.25,-2.45],[-2.35,-2.55],[-2.50,-2.80],[-2.65,-2.95],[-2.80,-3.10],[-2.20,-2.90],[-2.00,-2.65],[-1.80,-2.45],[-1.50,-2.10],[-1.30,-1.95],[-1.10,-1.65],[-0.90,-1.25],[-0.70,-0.90],[-0.50,-0.90],[-0.30,-0.80],[-0.10,-0.35],[0.10,-0.05],[0.30,0.10],[0.50,0.55],[0.70,0.35],[0.90,0.55],[1.10,0.75],[1.30,1.50],[0.40,0.95],[0.20,0.60],[0.00,0.45],[-0.20,0.35],[-0.40,0.15],[-0.60,-0.05],[-0.80,-0.25],[-1.00,-0.45],[-1.20,-0.65],[-1.40,-1.00],[-1.60,-1.20],[-1.80,-1.40],[-2.00,-1.80],[-2.30,-2.00]];
const NDAKO16_HIGHLIGHT = [[-1.01,-1.87],[-0.93,-1.32],[-1.73,-2.36],[1.39,1.89],[-0.91,-1.64]];

// tick values per panel (x, y)
const HK68_XTICKS = [-2.5, 0, 2.5],   HK68_YTICKS = [-2, 0, 2];
const BK79_XTICKS = [-5, -2.5, 0, 2.5], BK79_YTICKS = [-5, -2.5, 0, 2.5];
const BEI89_XTICKS = [-5, -2.5, 0, 2.5], BEI89_YTICKS = [-6, -4, -2, 0, 2];
const MOS99_XTICKS = [-5, -2.5, 0, 2.5], MOS99_YTICKS = [-5, -2.5, 0, 2.5];
const BRIS07_XTICKS = [-5, -2.5, 0, 2.5], BRIS07_YTICKS = [-5, -2.5, 0, 2.5];
const NDAKO16_XTICKS = [-2, 0, 2], NDAKO16_YTICKS = [-4, -2, 0, 2];

const X_LABEL = 'Replicate 1', Y_LABEL = 'Replicate 2';

// ---------------- LAYOUT ----------------
const panels = [
  {gray: HK68_GRAY, hi: HK68_HIGHLIGHT, xt: HK68_XTICKS, yt: HK68_YTICKS, xd:1, yd:0,
   box:[119,75,456,403], xr:[-4.70,2.90], yr:[-3.66,2.73], yGap:66},
  {gray: BK79_GRAY, hi: BK79_HIGHLIGHT, xt: BK79_XTICKS, yt: BK79_YTICKS, xd:1, yd:1,
   box:[743,75,432,403], xr:[-7.09,4.40], yr:[-6.82,4.43], yGap:90},
  {gray: BEI89_GRAY, hi: BEI89_HIGHLIGHT, xt: BEI89_XTICKS, yt: BEI89_YTICKS, xd:1, yd:0,
   box:[120,675,455,402], xr:[-6.48,3.18], yr:[-6.19,3.25], yGap:67},
  {gray: MOS99_GRAY, hi: MOS99_HIGHLIGHT, xt: MOS99_XTICKS, yt: MOS99_YTICKS, xd:1, yd:1,
   box:[743,675,432,402], xr:[-7.22,3.39], yr:[-7.33,3.31], yGap:90},
  {gray: BRIS07_GRAY, hi: BRIS07_HIGHLIGHT, xt: BRIS07_XTICKS, yt: BRIS07_YTICKS, xd:1, yd:1,
   box:[143,1275,432,403], xr:[-7.27,4.07], yr:[-7.06,4.07], yGap:90},
  {gray: NDAKO16_GRAY, hi: NDAKO16_HIGHLIGHT, xt: NDAKO16_XTICKS, yt: NDAKO16_YTICKS, xd:0, yd:0,
   box:[720,1275,455,403], xr:[-3.64,2.83], yr:[-4.57,3.38], yGap:67}
];

const FONT = "'Liberation Sans', Arial, Helvetica, sans-serif";
const textBase = {fontFamily: FONT, fontWeight: 'bold', fontSize: 28, color: '#000'};

const grid = [], xAxis = [], yAxis = [], series = [], title = [];
panels.forEach((p, i) => {
  const [l, t, w, h] = p.box;
  grid.push({left: l, top: t, width: w, height: h, containLabel: false});
  title.push({text: PANEL_NAMES[i], left: l + w / 2, top: t - 51, textAlign: 'center', padding: 0,
    textStyle: Object.assign({}, textBase)});
  const axisCommon = (ticks, dec, isX) => ({
    type: 'value', gridIndex: i,
    splitLine: {show: false},
    axisLine: {show: true, onZero: false, lineStyle: {color: '#000', width: 2.6}},
    axisTick: {show: true, length: 11, customValues: ticks, lineStyle: {color: '#000', width: 2.6}},
    axisLabel: Object.assign({show: true, customValues: ticks, margin: isX ? 24 : 20,
      formatter: v => Number(v).toFixed(dec)}, textBase),
    nameLocation: 'middle',
    nameTextStyle: Object.assign({}, textBase)
  });
  xAxis.push(Object.assign(axisCommon(p.xt, p.xd, true),
    {min: p.xr[0], max: p.xr[1], name: X_LABEL, nameGap: 63}));
  yAxis.push(Object.assign(axisCommon(p.yt, p.yd, false),
    {min: p.yr[0], max: p.yr[1], name: Y_LABEL, nameGap: p.yGap}));
  series.push({type: 'scatter', xAxisIndex: i, yAxisIndex: i, symbolSize: 9, clip: true,
    itemStyle: {color: '#b3b3b3', opacity: 1}, data: p.gray, z: 2, silent: true});
  series.push({type: 'scatter', xAxisIndex: i, yAxisIndex: i, symbolSize: 8.5, clip: true, z: 3, silent: true,
    data: p.hi.map((v, k) => ({value: v, itemStyle: {color: HIGHLIGHT_COLORS[k], opacity: 1}}))});
});

const chart = echarts.init(document.getElementById('c'), null, {renderer: 'canvas'});
chart.setOption({animation: false, backgroundColor: '#fff', title, grid, xAxis, yAxis, series});
</script></body></html>
